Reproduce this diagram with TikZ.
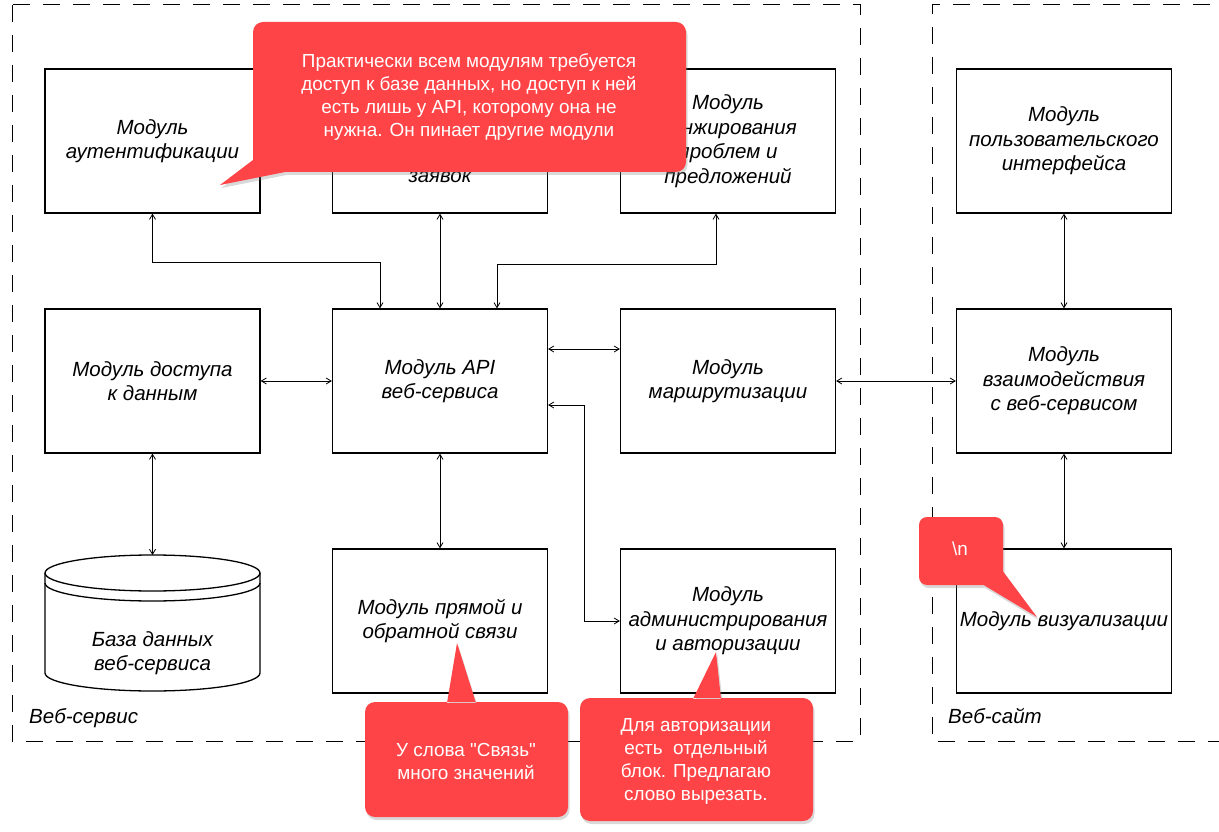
\documentclass[tikz,border=0pt]{standalone}
\usepackage{fontspec}
\setmainfont{Liberation Sans}
\newfontfamily\noligfont{Liberation Sans}[Ligatures=TeXOff]
\usetikzlibrary{arrows.meta,shadows,calc}
\definecolor{callred}{RGB}{255,68,71}
\begin{document}
\begin{tikzpicture}[x=1pt,y=-1pt,
  mod/.style={draw=black, line width=1.3pt, minimum width=215pt, minimum height=144pt, align=center, font=\fontsize{20.5}{24.5}\selectfont\itshape, inner sep=0pt},
  modtext/.style={align=center, font=\fontsize{20.5}{24.5}\selectfont\itshape, inner sep=0pt},
  conn/.style={line width=0.8pt, {Straight Barb[length=5pt,width=6pt]}-{Straight Barb[length=5pt,width=6pt]}},
  group/.style={draw, line width=1pt, dash pattern=on 17pt off 13pt},
  note/.style={fill=callred, drop shadow={shadow xshift=1.5pt, shadow yshift=-3pt, opacity=0.3}},
  notetext/.style={text=white, align=center, font=\fontsize{18.9}{23}\selectfont, inner sep=0pt}
]
\useasboundingbox (0,0) rectangle (1219,832);
% groups
\draw[group] (12,5) rectangle (860,741);
\draw[group] (1240,5) -- (932,5) -- (932,741) -- (1240,741);
\node[modtext, anchor=west] (lws) at (29,718) {Веб-сервис};
\node[modtext, anchor=west] (lwsite) at (948,716) {Веб-сайт};
% row 1
\node[mod] (auth) at (152.5,141) {Модуль\\аутентификации};
\node[mod] (mid) at (440,141) {};
\node[modtext] (midtxt) at (440,177) {заявок};
\node[mod] (rank) at (728,141) {Модуль\\ранжирования\\проблем и\\предложений};
\node[mod] (ui) at (1064,141) {Модуль\\пользовательского\\интерфейса};
% row 2
\node[mod] (data) at (152.5,381) {Модуль доступа\\к данным};
\node[mod] (api) at (440,381) {Модуль API\\веб-сервиса};
\node[mod] (route) at (728,381) {Модуль\\маршрутизации};
\node[mod] (inter) at (1064,381) {Модуль\\взаимодействия\\с веб-сервисом};
% row 3
\draw[line width=1.3pt, fill=white] (45,573) -- (45,673) arc[start angle=180, end angle=0, x radius=107.5, y radius=18] -- (260,573);
\draw[line width=1.3pt] (152.5,573) ellipse[x radius=107.5, y radius=18];
\draw[line width=1.3pt] (45,583) arc[start angle=180, end angle=0, x radius=107.5, y radius=18];
\coordinate (dbtop) at (152.5,555);
\node[modtext] (db) at (152.5,653) {База данных\\веб-сервиса};
\node[mod] (fb) at (440,621) {Модуль прямой и\\обратной связи};
\node[mod] (admin) at (728,621) {Модуль\\администрирования\\и авторизации};
\node[mod] (vis) at (1064,621) {Модуль визуализации};
% connectors
\draw[conn] (auth.south) -- ++(0,49) -| ([xshift=-60pt]api.north);
\draw[conn] (mid.south) -- (api.north);
\draw[conn] ([xshift=-12pt]rank.south) -- ++(0,51) -| ([xshift=57pt]api.north);
\draw[conn] (data.east) -- (api.west);
\draw[conn] ([yshift=32pt]api.east) -- ([yshift=32pt]route.west);
\draw[conn] ([yshift=-24pt]api.east) -- ++(36,0) |- (admin.west);
\draw[conn] (api.south) -- (fb.north);
\draw[conn] (data.south) -- (dbtop);
\draw[conn] (route.east) -- (inter.west);
\draw[conn] (ui.south) -- (inter.north);
\draw[conn] (inter.south) -- (vis.north);
% callouts
\fill[note] [rounded corners=10pt] (253,22) rectangle (686,172) [sharp corners] (253,160) -- (220,185) -- (285,172) -- cycle;
\node[notetext] (n1) at (469,97) {Практически всем модулям требуется\\доступ к базе данных, но доступ к ней\\есть лишь у API, которому она не\\нужна. Он пинает другие модули};
\fill[note] [rounded corners=10pt] (365,702) rectangle (568,817) [sharp corners] (447,703) -- (457,643) -- (476,703) -- cycle;
\node[notetext] (n2) at (466,761) {У слова {\noligfont"}Связь{\noligfont"}\\много значений};
\fill[note] [rounded corners=10pt] (580,698) rectangle (813,821) [sharp corners] (693,699) -- (716,652) -- (721,699) -- cycle;
\node[notetext] (n3) at (696,761) {Для авторизации\\есть\ \ отдельный\\блок. Предлагаю\\слово вырезать.};
\fill[note] [rounded corners=8pt] (919,517) rectangle (1003,585) [sharp corners] (982,584) -- (1037,617) -- (1002,570) -- cycle;
\node[notetext] (n4) at (960,549) {\textbackslash n};
\end{tikzpicture}
\end{document}
